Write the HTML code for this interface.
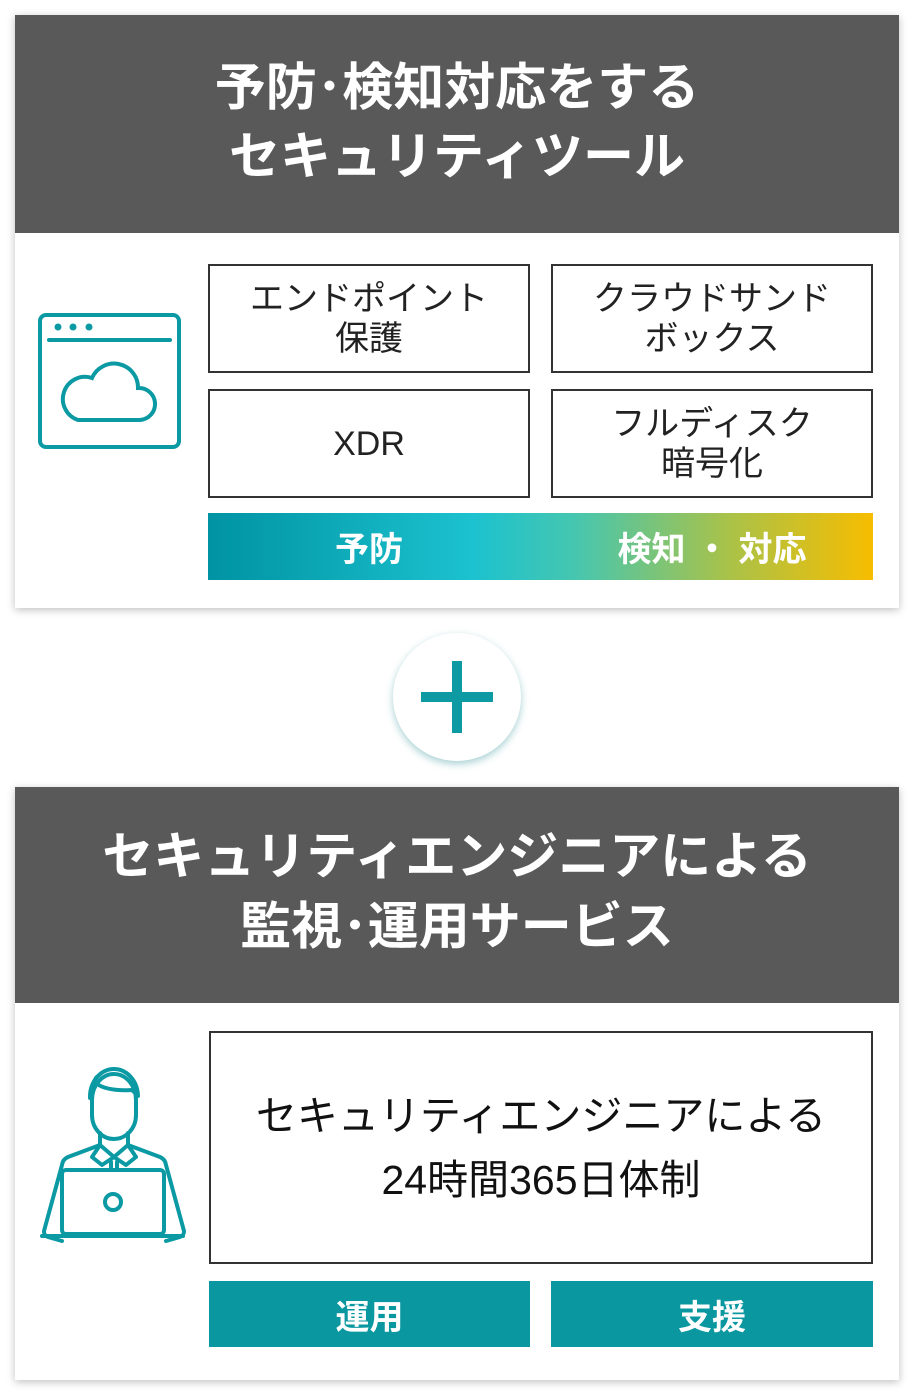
<!DOCTYPE html>
<html><head><meta charset="utf-8"><style>
body{margin:0;width:916px;height:1397px;background:#fff;font-family:"Liberation Sans","Noto Sans CJK JP",sans-serif;position:relative;overflow:hidden}
.card{position:absolute;left:15px;width:884px;background:#fff;box-shadow:0 2px 8px rgba(0,0,0,.25)}
.hd{position:absolute;left:0;top:0;width:884px;background:#595959;color:#fff;font-weight:bold;text-align:center;font-size:51px}
.hd div{position:absolute;left:0;width:100%;line-height:60px}
.bx{position:absolute;border:2px solid #333;box-sizing:border-box;display:flex;align-items:center;justify-content:center;text-align:center;font-size:34px;line-height:40px;color:#222}
.bar{position:absolute;color:#fff;font-weight:bold;font-size:34px;display:flex;align-items:center;justify-content:center}
</style></head><body>
<div class="card" style="top:15px;height:593px">
 <div class="hd" style="height:218px"><div style="top:57px;line-height:60px;top:58px"></div><div style="top:58px;display:none"></div></div>
</div>
<div style="position:absolute;left:15px;top:15px;width:884px;height:218px;background:#595959;color:#fff;font-weight:bold;text-align:center;font-size:51px">
 <div style="position:absolute;left:0;width:100%;top:43px;line-height:60px">予防･検知対応をする</div>
 <div style="position:absolute;left:0;width:100%;top:112px;line-height:60px">セキュリティツール</div>
</div>
<div class="bx" style="left:208px;top:264px;width:322px;height:109px">エンドポイント<br>保護</div>
<div class="bx" style="left:551px;top:264px;width:322px;height:109px">クラウドサンド<br>ボックス</div>
<div class="bx" style="left:208px;top:389px;width:322px;height:109px">XDR</div>
<div class="bx" style="left:551px;top:389px;width:322px;height:109px">フルディスク<br>暗号化</div>
<div style="position:absolute;left:208px;top:513px;width:665px;height:67px;background:linear-gradient(90deg,#0093a3 0%,#1cc2cf 40%,#45c6b0 55%,#a8c24a 78%,#f7bd00 100%)"></div>
<div class="bar" style="left:208px;top:513px;width:322px;height:67px">予防</div>
<div class="bar" style="left:551px;top:513px;width:322px;height:67px">検知 ・ 対応</div>
<svg style="position:absolute;left:0;top:0" width="916" height="1397">
 <g fill="none" stroke="#0b9aa3" stroke-width="4" stroke-linecap="round">
  <rect x="40" y="315" width="139" height="132" rx="6"/>
  <line x1="49" y1="340" x2="170" y2="340"/>
  <path d="M78 420 H140 a16 16 0 0 0 -2 -32 a24 24 0 0 0 -46 -10 a18 18 0 0 0 -14 42 z"/>
 </g>
 <g fill="#0b9aa3"><circle cx="58" cy="327" r="3.5"/><circle cx="73" cy="327" r="3.5"/><circle cx="89" cy="327" r="3.5"/></g>
</svg>
<div style="position:absolute;left:393px;top:633px;width:128px;height:128px;border-radius:50%;background:#fff;box-shadow:0 3px 8px rgba(0,120,130,.35)"></div>
<div style="position:absolute;left:421px;top:692px;width:72px;height:10px;background:#0e9aa3"></div>
<div style="position:absolute;left:452px;top:661px;width:10px;height:72px;background:#0e9aa3"></div>
<div class="card" style="top:787px;height:593px"></div>
<div style="position:absolute;left:15px;top:787px;width:884px;height:216px;background:#595959;color:#fff;font-weight:bold;text-align:center;font-size:51px">
 <div style="position:absolute;left:0;width:100%;top:40px;line-height:60px">セキュリティエンジニアによる</div>
 <div style="position:absolute;left:0;width:100%;top:110px;line-height:60px">監視･運用サービス</div>
</div>
<div class="bx" style="left:209px;top:1031px;width:664px;height:233px;font-size:41px;line-height:64px;color:#111">セキュリティエンジニアによる<br>24時間365日体制</div>
<div class="bar" style="left:209px;top:1281px;width:321px;height:66px;background:#0a97a0">運用</div>
<div class="bar" style="left:551px;top:1281px;width:322px;height:66px;background:#0a97a0">支援</div>
<svg style="position:absolute;left:0;top:0" width="916" height="1397">
 <g fill="none" stroke="#0b9aa3" stroke-width="4" stroke-linejoin="round" stroke-linecap="round">
  <path d="M92 1100 a22 26 0 0 1 44 0 v15 a22 24 0 0 1 -44 0 z"/>
  <path d="M90 1098 a24 28 0 0 1 48 -2 l-6 -6 a30 10 0 0 1 -34 -14"/>
  <path d="M100 1133 v12 l-32 12 a10 10 0 0 0 -6 8 l-18 66 a6 6 0 0 0 4 6 l14 4"/>
  <path d="M128 1133 v12 l32 12 a10 10 0 0 1 6 8 l18 66 a6 6 0 0 1 -4 6 l-14 4"/>
  <path d="M100 1145 l14 12 l14 -12 M100 1145 l-8 12 l10 8 l12 -8 l12 8 l10 -8 l-8 -12 M111 1162 v8 M117 1162 v8"/>
  <rect x="62" y="1170" width="102" height="64" rx="4"/>
  <circle cx="113" cy="1202" r="8"/>
  <line x1="42" y1="1236" x2="183" y2="1236"/>
 </g>
</svg>
</body></html>
